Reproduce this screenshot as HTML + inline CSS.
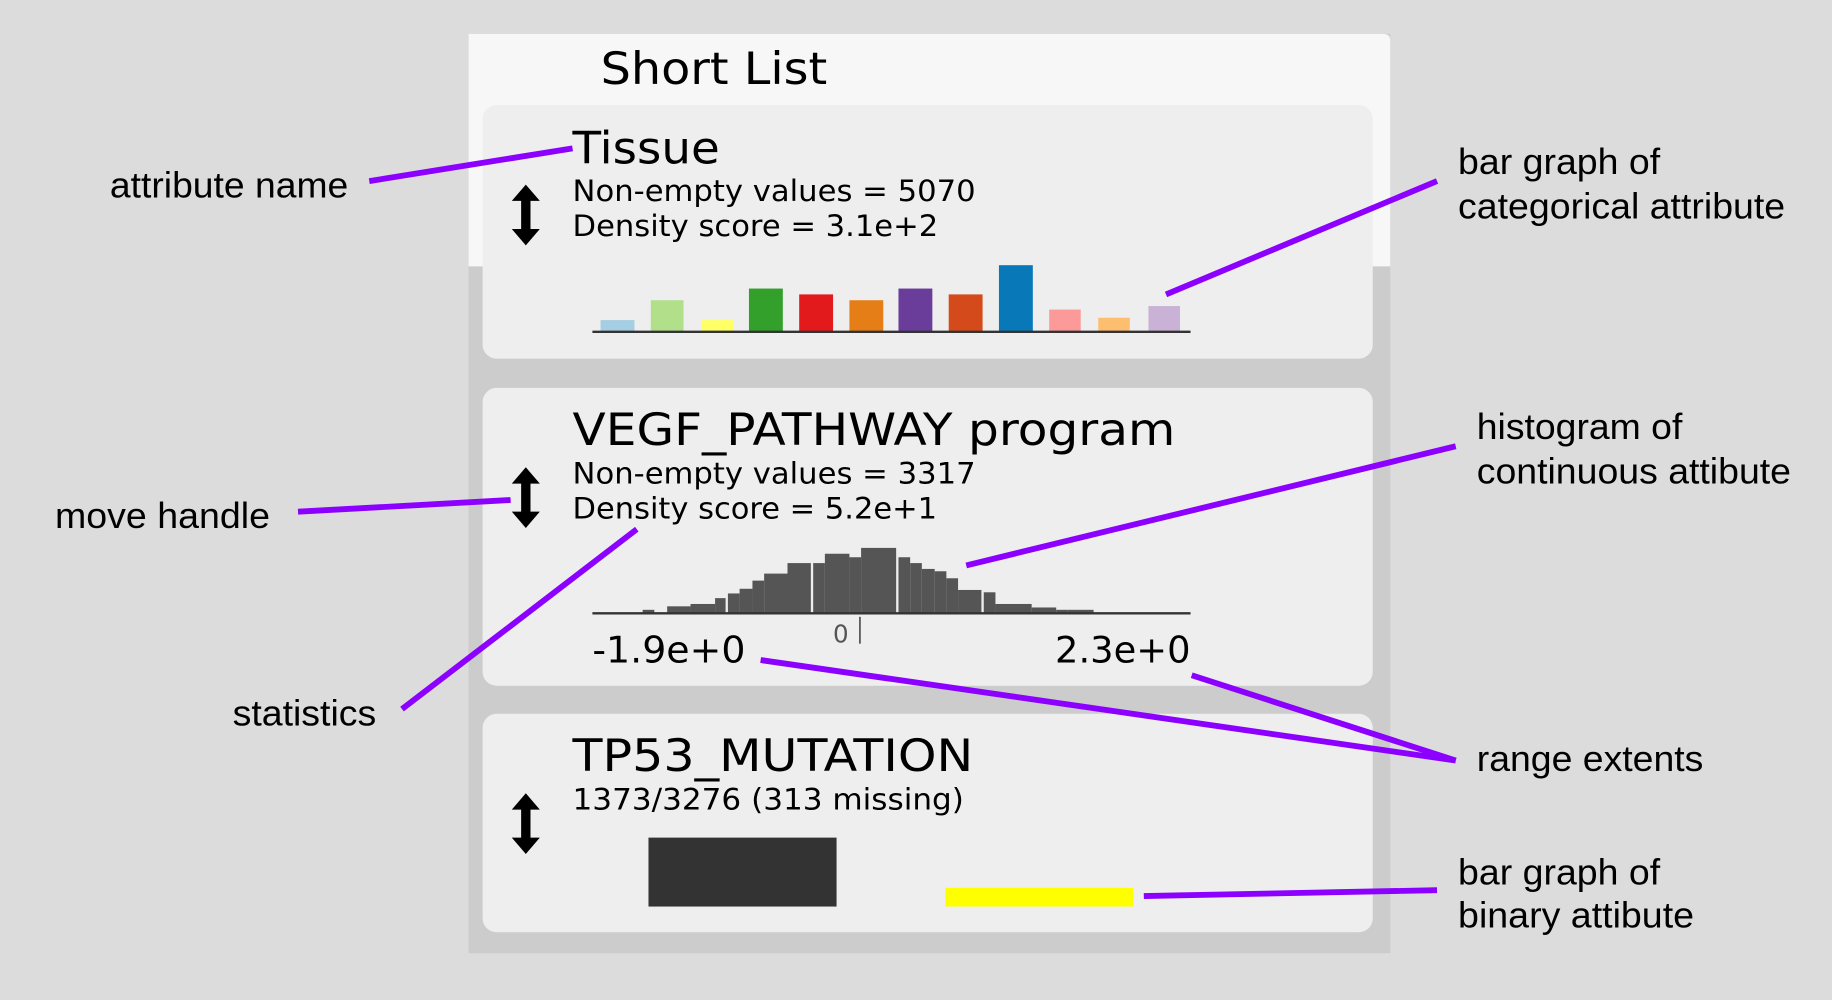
<!DOCTYPE html>
<html><head><meta charset="utf-8"><style>html,body{margin:0;padding:0;background:#dcdcdc}svg{display:block}</style></head>
<body>
<svg width="1832" height="1000" viewBox="0 0 1568 856" xmlns="http://www.w3.org/2000/svg" font-family="Liberation Sans, DejaVu Sans, sans-serif">
<rect width="1568" height="856" fill="#dcdcdc"/>
<rect x="401" y="29" width="789" height="787" fill="#cccccc"/>
<path d="M401 29 H1184 Q1190 29 1190 35 V228 H401 Z" fill="#f7f7f7"/>
<g font-family="DejaVu Sans, sans-serif" fill="#000" lengthAdjust="spacingAndGlyphs">
<text x="514" y="72" font-size="38" textLength="194" lengthAdjust="spacingAndGlyphs">Short List</text>
</g>
<rect x="413" y="90" width="762" height="217" rx="12" fill="#eeeeee"/>
<rect x="413" y="332" width="762" height="255" rx="12" fill="#eeeeee"/>
<rect x="413" y="611" width="762" height="187" rx="12" fill="#eeeeee"/>
<g fill="#000" font-family="DejaVu Sans, sans-serif">
<text x="490" y="140" font-size="38" textLength="126" lengthAdjust="spacingAndGlyphs">Tissue</text>
<text x="490" y="172" font-size="25" textLength="345" lengthAdjust="spacingAndGlyphs">Non-empty values = 5070</text>
<text x="490" y="202" font-size="25" textLength="313" lengthAdjust="spacingAndGlyphs">Density score = 3.1e+2</text>
<text x="490" y="381" font-size="38" textLength="516" lengthAdjust="spacingAndGlyphs">VEGF_PATHWAY program</text>
<text x="490" y="414" font-size="25" textLength="345" lengthAdjust="spacingAndGlyphs">Non-empty values = 3317</text>
<text x="490" y="444" font-size="25" textLength="312" lengthAdjust="spacingAndGlyphs">Density score = 5.2e+1</text>
<text x="507" y="567" font-size="31" textLength="131" lengthAdjust="spacingAndGlyphs">-1.9e+0</text>
<text x="903" y="567" font-size="31" textLength="116" lengthAdjust="spacingAndGlyphs">2.3e+0</text>
<text x="490" y="660" font-size="38" textLength="343" lengthAdjust="spacingAndGlyphs">TP53_MUTATION</text>
<text x="490" y="693" font-size="25" textLength="335" lengthAdjust="spacingAndGlyphs">1373/3276 (313 missing)</text>
</g>
<text x="713" y="550" font-size="21" fill="#555" font-family="DejaVu Sans, sans-serif">0</text>
<line x1="736" y1="528" x2="736" y2="551" stroke="#555" stroke-width="1.5"/>
<g fill="#000">
<path d="M450 158 l-12 14 h8 v24 h-8 l12 14 l12 -14 h-8 v-24 h8 z"/>
<path d="M450 400 l-12 14 h8 v24 h-8 l12 14 l12 -14 h-8 v-24 h8 z"/>
<path d="M450 679 l-12 14 h8 v24 h-8 l12 14 l12 -14 h-8 v-24 h8 z"/>
</g>
<g>
<rect x="514" y="274" width="29" height="10" fill="#a6cee3"/>
<rect x="557" y="257" width="28" height="27" fill="#b2df8a"/>
<rect x="600" y="274" width="28" height="10" fill="#ffff66"/>
<rect x="641" y="247" width="29" height="37" fill="#33a02c"/>
<rect x="684" y="252" width="29" height="32" fill="#e31a1c"/>
<rect x="727" y="257" width="29" height="27" fill="#e67e17"/>
<rect x="769" y="247" width="29" height="37" fill="#6a3d9a"/>
<rect x="812" y="252" width="29" height="32" fill="#d44a1a"/>
<rect x="855" y="227" width="29" height="57" fill="#0878b8"/>
<rect x="898" y="265" width="27" height="19" fill="#fb9a99"/>
<rect x="940" y="272" width="27" height="12" fill="#fdbf6f"/>
<rect x="983" y="262" width="27" height="22" fill="#cab2d6"/>
<line x1="507" y1="284" x2="1019" y2="284" stroke="#333" stroke-width="2"/>
</g>
<g fill="#555">
<rect x="550" y="522" width="10" height="3"/>
<rect x="571" y="519" width="20" height="6"/>
<rect x="591" y="517" width="21" height="8"/>
<rect x="612" y="512" width="9" height="13"/>
<rect x="623" y="508" width="10" height="17"/>
<rect x="633" y="504" width="11" height="21"/>
<rect x="644" y="497" width="10" height="28"/>
<rect x="654" y="491" width="20" height="34"/>
<rect x="674" y="482" width="20" height="43"/>
<rect x="696" y="482" width="10" height="43"/>
<rect x="706" y="474" width="21" height="51"/>
<rect x="727" y="477" width="10" height="48"/>
<rect x="737" y="469" width="30" height="56"/>
<rect x="769" y="477" width="10" height="48"/>
<rect x="779" y="482" width="10" height="43"/>
<rect x="789" y="487" width="11" height="38"/>
<rect x="800" y="489" width="10" height="36"/>
<rect x="810" y="495" width="10" height="30"/>
<rect x="820" y="505" width="20" height="20"/>
<rect x="842" y="507" width="10" height="18"/>
<rect x="852" y="517" width="31" height="8"/>
<rect x="883" y="520" width="21" height="5"/>
<rect x="904" y="522" width="10" height="3"/>
<rect x="914" y="522" width="22" height="3"/>
</g>
<line x1="507" y1="525" x2="1019" y2="525" stroke="#333" stroke-width="2"/>
<rect x="555" y="717" width="161" height="59" fill="#333"/>
<rect x="809" y="760" width="161" height="16" fill="#ffff00"/>
<g stroke="#8b00ff" stroke-width="5" fill="none">
<line x1="316" y1="155" x2="490" y2="127"/>
<line x1="998" y1="252" x2="1230" y2="155"/>
<line x1="255" y1="438" x2="437" y2="428"/>
<line x1="827" y1="484" x2="1246" y2="382"/>
<line x1="344" y1="607" x2="545" y2="453"/>
<line x1="651" y1="565" x2="1246" y2="651"/>
<line x1="1020" y1="578" x2="1246" y2="651"/>
<line x1="979" y1="767" x2="1230" y2="762"/>
</g>
<g font-size="31" fill="#000">
<text x="94" y="169" textLength="204" lengthAdjust="spacingAndGlyphs">attribute name</text>
<text x="1248" y="149" textLength="173" lengthAdjust="spacingAndGlyphs">bar graph of</text>
<text x="1248" y="187" textLength="280" lengthAdjust="spacingAndGlyphs">categorical attribute</text>
<text x="47" y="452" textLength="184" lengthAdjust="spacingAndGlyphs">move handle</text>
<text x="1264" y="376" textLength="176" lengthAdjust="spacingAndGlyphs">histogram of</text>
<text x="1264" y="414" textLength="269" lengthAdjust="spacingAndGlyphs">continuous attibute</text>
<text x="199" y="621" textLength="123" lengthAdjust="spacingAndGlyphs">statistics</text>
<text x="1264" y="660" textLength="194" lengthAdjust="spacingAndGlyphs">range extents</text>
<text x="1248" y="757" textLength="173" lengthAdjust="spacingAndGlyphs">bar graph of</text>
<text x="1248" y="794" textLength="202" lengthAdjust="spacingAndGlyphs">binary attibute</text>
</g>
</svg>
</body></html>
